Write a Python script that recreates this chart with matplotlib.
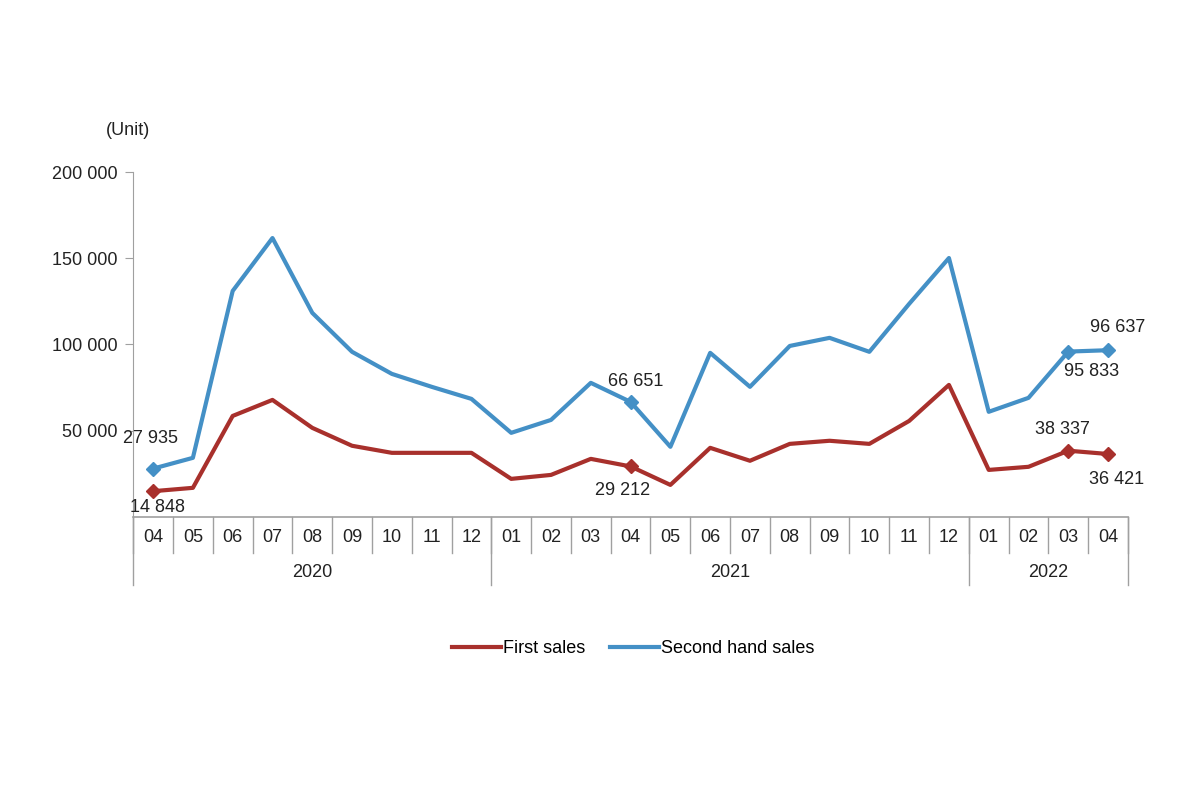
import numpy as np
import matplotlib.pyplot as plt
from matplotlib.ticker import FuncFormatter
import matplotlib.transforms as mtransforms

plt.rcParams['font.family'] = ['Liberation Sans', 'DejaVu Sans']

# data
months = ["04", "05", "06", "07", "08", "09", "10", "11", "12",
          "01", "02", "03", "04", "05", "06", "07", "08", "09", "10", "11", "12",
          "01", "02", "03", "04"]
years = ["2020", "2021", "2022"]
year_counts = [9, 12, 4]
first_sales = [14848, 16800, 58500, 67800, 51600, 41200, 37100, 37100, 37100,
               22000, 24300, 33600, 29212, 18500, 40000, 32500, 42300, 44100, 42300, 55600, 76500,
               27200, 29000, 38337, 36421]
second_hand = [27935, 34200, 131000, 161700, 118300, 95700, 82900, 75400, 68400,
               48700, 56200, 77700, 66651, 40600, 95100, 75400, 99100, 103800, 95700, 123500, 150100,
               60900, 69000, 95833, 96637]
marked = [0, 12, 23, 24]

red = '#a8302c'
blue = '#4490c6'
grey = '#a0a0a0'
txt = '#222222'
fs = 13

fig = plt.figure(figsize=(12, 8), dpi=100)
ax = fig.add_axes([0.111, 0.354, 0.829, 0.431])

x = np.arange(len(months))
ax.plot(x, first_sales, color=red, lw=3, label='First sales', solid_joinstyle='round')
ax.plot(x, second_hand, color=blue, lw=3, label='Second hand sales', solid_joinstyle='round')
ax.plot(x[marked], np.array(first_sales)[marked], 'D', color=red, ms=7, ls='none')
ax.plot(x[marked], np.array(second_hand)[marked], 'D', color=blue, ms=7, ls='none')

ax.set_xlim(-0.5, len(months) - 0.5)
ax.set_ylim(0, 200000)
ax.set_yticks([50000, 100000, 150000, 200000])
ax.yaxis.set_major_formatter(FuncFormatter(lambda v, p: f"{int(v):,}".replace(",", " ")))
ax.tick_params(axis='y', length=6, color=grey, labelsize=fs, colors=txt, pad=5)
ax.set_xticks([])
for s in ['top', 'right']:
    ax.spines[s].set_visible(False)
ax.spines['left'].set_color(grey)
ax.spines['bottom'].set_color(grey)
ax.spines['bottom'].set_linewidth(1.2)

ax.text(-0.005, 1.119, "(Unit)", transform=ax.transAxes, ha='center', va='center', fontsize=fs, color=txt)

# category boxes under the axis
trans = mtransforms.blended_transform_factory(ax.transData, ax.transAxes)
for i in range(len(months)):
    ax.text(i, -0.061, months[i], transform=trans, ha='center', va='center', fontsize=fs, color=txt)
for b in np.arange(-0.5, len(months), 1.0):
    ax.plot([b, b], [0, -0.104], transform=trans, color=grey, lw=1, clip_on=False)
start = 0
edges = [-0.5]
for y, n in zip(years, year_counts):
    ax.text(start + (n - 1) / 2, -0.162, y, transform=trans, ha='center', va='center', fontsize=fs, color=txt)
    start += n
    edges.append(start - 0.5)
for b in edges:
    ax.plot([b, b], [0, -0.197], transform=trans, color=grey, lw=1, clip_on=False)

# value labels
def fmt(v):
    return f"{v:,}".replace(",", " ")

offsets_first = {0: (3, -12), 12: (-6, -17), 23: (-4, 15), 24: (6, -18)}
offsets_second = {0: (-2, 22), 12: (4, 15), 23: (17, -14), 24: (7, 16)}
for i, off in offsets_first.items():
    ax.annotate(fmt(first_sales[i]), (x[i], first_sales[i]), xytext=off, textcoords='offset points',
                ha='center', va='center', fontsize=fs, color=txt, annotation_clip=False)
for i, off in offsets_second.items():
    ax.annotate(fmt(second_hand[i]), (x[i], second_hand[i]), xytext=off, textcoords='offset points',
                ha='center', va='center', fontsize=fs, color=txt, annotation_clip=False)

fig.legend(loc='center', bbox_to_anchor=(0.5275, 0.189), ncol=2, frameon=False, fontsize=fs,
           handlelength=2.7, handletextpad=0.1, columnspacing=1.4)

fig.savefig('out.png', dpi=100, facecolor='white')
